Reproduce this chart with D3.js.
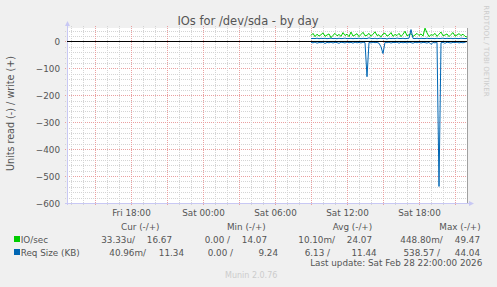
<!DOCTYPE html>
<html lang="en">
<meta charset="UTF-8">
<title>IOs for /dev/sda - by day</title>
<script src="https://d3js.org/d3.v7.min.js"></script>
<style>
html, body { margin: 0; padding: 0; background: #f0f0f0; }
svg text { font-family: "DejaVu Sans", sans-serif; fill: #555; }
</style>
<body>
<div id="chart"></div>
<script>
// y axis ticks and x axis ticks (labels every 6h, grid every hour / 3h)
var yTicks = [0, -100, -200, -300, -400, -500, -600];
var xLabelTimes = [new Date(2026, 1, 27, 18, 0), new Date(2026, 1, 28, 0, 0),
                   new Date(2026, 1, 28, 6, 0), new Date(2026, 1, 28, 12, 0),
                   new Date(2026, 1, 28, 18, 0)];

// samples every 10 minutes from Sat 09:00 to Sat 22:00
var sampleStart = new Date(2026, 1, 28, 9, 0);

// IO/sec write (+)
var ioWrite = [
  22, 30, 18, 27, 20, 25, 32, 19, 24, 28,
  14.07, 23, 30, 21, 26, 19, 33, 22, 27, 18,
  35, 20, 24, 29, 18, 26, 34, 21, 23, 30,
  19, 27, 36, 22, 25, 17, 28, 31, 20, 24,
  33, 19, 26, 22, 30, 18, 27, 38, 21, 25,
  29, 19, 24, 30, 22, 28, 20, 49.47, 32, 18,
  25, 23, 30, 19, 27, 35, 21, 24, 28, 18,
  26, 33, 20, 24, 29, 22, 27, 19, 16.67
];
// IO/sec read (-)
var ioRead = [
  0, 0, 0.02, 0, 0, 0.01, 0, 0, 0, 0.03,
  0, 0, 0, 0.45, 0, 0, 0, 0.01, 0, 0,
  0, 0.02, 0, 0, 0, 0, 0.01, 0, 0, 0,
  0, 0, 0, 0.01, 0, 0, 0.02, 0, 0, 0,
  0, 0, 0.01, 0, 0, 0, 0, 0, 0.03, 0,
  0, 0, 0, 0, 0.01, 0, 0, 0, 0, 0,
  0.02, 0, 0, 0, 0.05, 0, 0, 0, 0.01, 0,
  0, 0, 0, 0.01, 0, 0, 0, 0, 0
];
// Req Size (KB) write (+)
var reqWrite = [
  10.5, 11.2, 10.8, 12.1, 10.3, 11.6, 10.9, 11.8, 10.4, 11.3,
  12.0, 10.6, 11.4, 10.2, 11.9, 10.7, 11.1, 12.3, 10.5, 11.0,
  11.7, 10.4, 11.5, 10.9, 12.2, 10.3, 11.6, 11.0, 10.8, 13.4,
  11.2, 10.6, 11.8, 10.1, 11.4, 12.0, 10.7, 11.3, 9.24, 11.9,
  10.8, 11.5, 10.6, 12.4, 11.1, 10.9, 11.7, 10.5, 11.2, 12.1,
  44.04, 11.3, 10.7, 11.8, 10.4, 11.6, 11.0, 10.8, 12.0, 10.6,
  11.4, 11.1, 10.5, 11.9, 10.8, 11.3, 12.2, 10.7, 11.5, 10.9,
  11.6, 10.4, 11.8, 11.0, 10.6, 12.1, 11.2, 10.8, 11.34
];
// Req Size (KB) read (-)
var reqRead = [
  3.2, 5.1, 2.4, 6.3, 3.8, 4.5, 2.9, 7.2, 3.5, 4.8,
  2.6, 5.7, 3.1, 4.2, 6.8, 2.7, 3.9, 5.4, 2.5, 4.6,
  3.3, 6.1, 2.8, 4.9, 3.6, 5.5, 2.6, 4.1, 131, 3.4,
  5.2, 2.9, 4.4, 3.7, 6.5, 20, 45, 3.1, 4.7, 2.8,
  5.9, 3.5, 4.3, 2.6, 6.2, 3.0, 4.8, 3.6, 5.3, 2.7,
  4.1, 6.4, 3.2, 4.6, 2.9, 5.6, 3.4, 4.0, 6.0, 2.8,
  11, 3.9, 5.0, 2.7, 538.57, 4.5, 3.3, 6.6, 2.9, 4.2,
  5.8, 3.1, 4.4, 2.6, 5.2, 3.7, 4.9, 2.8, 0.04096
];

// legend text
var legendHeaders = ["Cur (-/+)", "Min (-/+)", "Avg (-/+)", "Max (-/+)"];
var legendNames = ["IO/sec", "Req Size (KB)"];
var legendColors = ["#00cc00", "#0066b3"];
var legendValues = [
  ["33.33u/", "16.67", "0.00 /", "14.07", "10.10m/", "24.07", "448.80m/", "49.47"],
  ["40.96m/", "11.34", "0.00 /", "9.24", "6.13 /", "11.44", "538.57 /", "44.04"]
];

var W = 497, H = 287;
var pLeft = 67, pRight = 467, pTop = 28, pBottom = 203;

var svg = d3.select("#chart").append("svg")
    .attr("width", W).attr("height", H);

svg.append("rect").attr("width", W).attr("height", H).attr("fill", "#f0f0f0");
svg.append("rect").attr("x", pLeft).attr("y", pTop)
    .attr("width", pRight - pLeft).attr("height", pBottom - pTop).attr("fill", "#fff");

var x = d3.scaleTime()
    .domain([new Date(2026, 1, 27, 12, 40), new Date(2026, 1, 28, 22, 0)])
    .range([pLeft, pRight]);
var y = d3.scaleLinear().domain([-600, 50]).range([pBottom, pTop]);

// grid
var grid = svg.append("g");
d3.range(-600, 51, 20).forEach(function(v) {
  var yy = Math.round(y(v)) + 0.5;
  var major = v % 100 === 0;
  grid.append("line")
      .attr("x1", pLeft - 2).attr("x2", pRight + 2).attr("y1", yy).attr("y2", yy)
      .attr("stroke", major ? "#eaa0a0" : "#d4d4d4")
      .attr("stroke-dasharray", "1,1");
});
d3.timeHour.every(1).range(x.domain()[0], x.domain()[1]).forEach(function(t) {
  var xx = Math.round(x(t)) + 0.5;
  var major = t.getHours() % 3 === 0;
  grid.append("line")
      .attr("x1", xx).attr("x2", xx).attr("y1", pTop - 2).attr("y2", pBottom + 2)
      .attr("stroke", major ? "#eaa0a0" : "#d4d4d4")
      .attr("stroke-dasharray", "1,1");
});

// axes lines with arrows
svg.append("line").attr("x1", pLeft + 0.5).attr("x2", pLeft + 0.5)
    .attr("y1", pBottom + 2).attr("y2", pTop - 3).attr("stroke", "#c8c8f4");
svg.append("path").attr("d", "M" + (pLeft - 2) + "," + (pTop - 2) + "L" + (pLeft + 3) + "," + (pTop - 2) + "L" + (pLeft + 0.5) + "," + (pTop - 7) + "Z")
    .attr("fill", "#c8c8f4");
svg.append("line").attr("x1", pLeft - 2).attr("x2", pRight + 3)
    .attr("y1", pBottom + 0.5).attr("y2", pBottom + 0.5).attr("stroke", "#c8c8f4");
svg.append("path").attr("d", "M" + (pRight + 2) + "," + (pBottom - 2) + "L" + (pRight + 2) + "," + (pBottom + 3) + "L" + (pRight + 7) + "," + (pBottom + 0.5) + "Z")
    .attr("fill", "#c8c8f4");
svg.append("line").attr("x1", pRight + 0.5).attr("x2", pRight + 0.5)
    .attr("y1", pTop).attr("y2", pBottom).attr("stroke", "#a0a0a0");

// tick labels through d3 axes
var yAxis = svg.append("g").attr("transform", "translate(" + (pLeft - 7) + ",0)")
    .call(d3.axisLeft(y).tickValues(yTicks).tickSize(0).tickPadding(0));
var xAxis = svg.append("g").attr("transform", "translate(0," + (pBottom + 10) + ")")
    .call(d3.axisBottom(x).tickValues(xLabelTimes).tickSize(0).tickPadding(0)
      .tickFormat(d3.timeFormat("%a %H:%M")));
[yAxis, xAxis].forEach(function(a) {
  a.select(".domain").remove();
  a.selectAll("text").attr("font-size", 8.8).attr("fill", "#555")
      .style("font-family", "DejaVu Sans, sans-serif");
});
yAxis.selectAll("text").attr("dy", "0.35em");
xAxis.selectAll("text").attr("dy", "0.35em").attr("y", 0);

// data lines
var series = [
  {vals: ioRead, sign: -1, color: "#00cc00"},
  {vals: ioWrite, sign: 1, color: "#00cc00"},
  {vals: reqRead, sign: -1, color: "#0066b3"},
  {vals: reqWrite, sign: 1, color: "#0066b3"}
];
var line = d3.line()
    .x(function(d, i) { return x(d3.timeMinute.offset(sampleStart, i * 10)); })
    .y(function(d) { return y(d); });
series.forEach(function(s) {
  svg.append("path")
      .attr("d", line(s.vals.map(function(v) { return s.sign * v; })))
      .attr("fill", "none").attr("stroke", s.color).attr("stroke-width", 1);
});

// zero line
svg.append("line").attr("x1", pLeft).attr("x2", pRight)
    .attr("y1", Math.round(y(0)) + 0.5).attr("y2", Math.round(y(0)) + 0.5)
    .attr("stroke", "#000");

// title & labels
svg.append("text").attr("x", 248).attr("y", 25).attr("text-anchor", "middle")
    .attr("font-size", 11.5).text("IOs for /dev/sda - by day");
svg.append("text").attr("transform", "translate(13.5,113.5) rotate(-90)")
    .attr("text-anchor", "middle").attr("font-size", 9.6)
    .text("Units read (-) / write (+)");
svg.append("text").attr("transform", "translate(484,51) rotate(90)")
    .attr("text-anchor", "middle").attr("font-size", 7.1).style("fill", "#cccccc")
    .text("RRDTOOL / TOBI OETIKER");

// legend
var lg = svg.append("g").attr("font-size", 8.8);
var headerX = [121, 227, 332.7, 439.3];
legendHeaders.forEach(function(h, i) {
  lg.append("text").attr("x", headerX[i]).attr("y", 230).text(h);
});
var valueEnds = [
  [135, 172, 230, 267, 335, 372, 442.7, 480],
  [146, 184, 233, 278, 330, 376.7, 440, 480]
];
legendNames.forEach(function(n, r) {
  var by = 242.5 + r * 13;
  lg.append("rect").attr("x", 14).attr("y", by - 6.5).attr("width", 6).attr("height", 6)
      .attr("fill", legendColors[r]);
  lg.append("text").attr("x", 20.7).attr("y", by).text(n);
  legendValues[r].forEach(function(v, j) {
    lg.append("text").attr("x", valueEnds[r][j]).attr("y", by)
        .attr("text-anchor", "end").text(v);
  });
});
lg.append("text").attr("x", 482.3).attr("y", 266).attr("text-anchor", "end")
    .text("Last update: Sat Feb 28 22:00:00 2026");
svg.append("text").attr("x", 225).attr("y", 278).attr("font-size", 8)
    .style("fill", "#cccccc").text("Munin 2.0.76");
</script>
</body>
</html>
